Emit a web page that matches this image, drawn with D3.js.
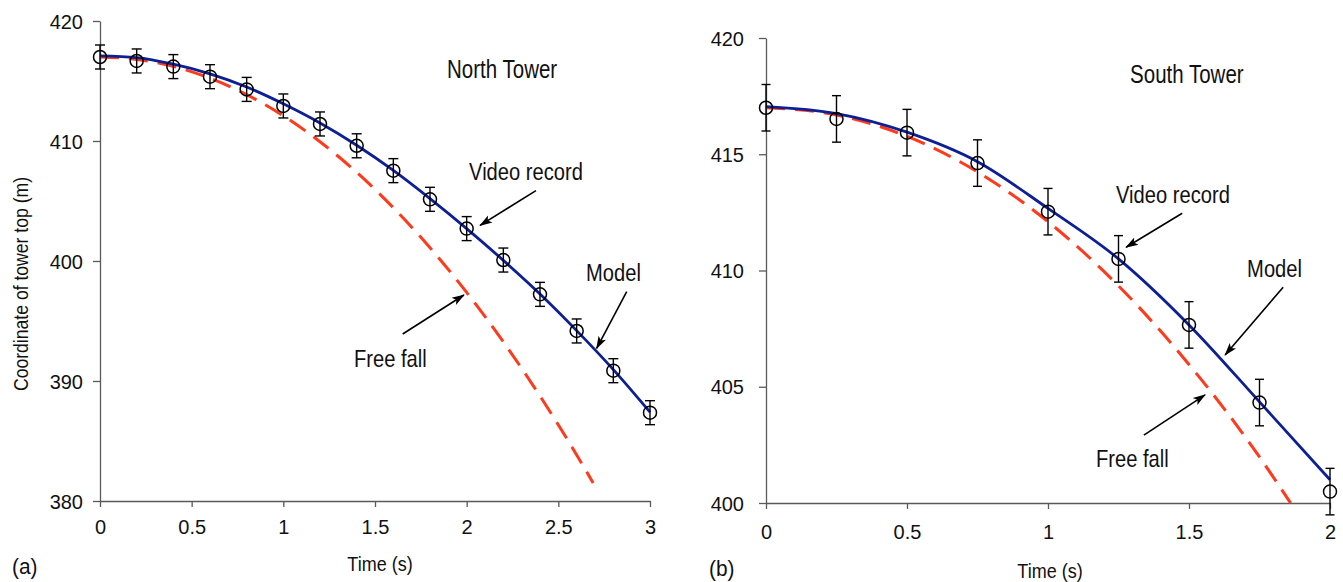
<!DOCTYPE html>
<html>
<head>
<meta charset="utf-8">
<script src="https://cdn.jsdelivr.net/npm/d3@7"></script>
<style>
  html, body { margin: 0; padding: 0; background: #fff; }
  svg { display: block; font-family: "Liberation Sans", Arial, Helvetica, sans-serif; }
</style>
</head>
<body>
<svg id="chart" width="1343" height="582"></svg>
<script>
// ---------- North Tower (a) ----------
const timeN = [0, 0.2, 0.4, 0.6, 0.8, 1.0, 1.2, 1.4, 1.6, 1.8, 2.0, 2.2, 2.4, 2.6, 2.8, 3.0];
const videoN = [417.0, 416.67, 416.2, 415.36, 414.3, 412.92, 411.42, 409.6, 407.53, 405.14, 402.7, 400.08, 397.22, 394.17, 390.86, 387.36];
const errN = [1.0, 1.0, 1.0, 1.0, 1.0, 1.0, 1.0, 1.0, 1.0, 1.0, 1.0, 1.0, 1.0, 1.0, 1.0, 1.0];
const modelTimeN = [0, 0.2, 0.4, 0.6, 0.8, 1.0, 1.2, 1.4, 1.6, 1.8, 2.0, 2.2, 2.4, 2.6, 2.8, 3.0];
const modelN = [417.1, 416.95, 416.4, 415.6, 414.5, 413.1, 411.5, 409.65, 407.55, 405.2, 402.7, 400.05, 397.25, 394.2, 390.95, 387.4];
const freeTimeN = [0, 0.2, 0.4, 0.6, 0.8, 1.0, 1.2, 1.4, 1.6, 1.8, 2.0, 2.2, 2.4, 2.6, 2.69];
const freeN = [417.0, 416.8, 416.22, 415.23, 413.86, 412.1, 409.94, 407.39, 404.44, 401.11, 397.38, 393.26, 388.75, 383.84, 381.5];
const xTicksN = [0, 0.5, 1, 1.5, 2, 2.5, 3];
const yTicksN = [380, 390, 400, 410, 420];

// ---------- South Tower (b) ----------
const timeS = [0, 0.25, 0.5, 0.75, 1.0, 1.25, 1.5, 1.75, 2.0];
const videoS = [417.0, 416.52, 415.93, 414.62, 412.53, 410.5, 407.66, 404.32, 400.49];
const errS = [1.0, 1.0, 1.0, 1.0, 1.0, 1.0, 1.0, 1.0, 1.0];
const modelTimeS = [0, 0.25, 0.5, 0.75, 1.0, 1.25, 1.5, 1.75, 2.0];
const modelS = [417.05, 416.75, 415.95, 414.68, 412.67, 410.5, 407.66, 404.35, 401.0];
const freeTimeS = [0, 0.25, 0.5, 0.75, 1.0, 1.25, 1.5, 1.75, 1.86];
const freeS = [417.0, 416.69, 415.77, 414.24, 412.1, 409.34, 405.96, 401.98, 400.0];
const xTicksS = [0, 0.5, 1, 1.5, 2];
const yTicksS = [400, 405, 410, 415, 420];

// ---------- annotations (data coordinates) ----------
const titleN = {text: "North Tower", t: 1.893, v: 415.25};
const labelsN = [
  {text: "Video record", t: 2.013, v: 406.75},
  {text: "Model", t: 2.651, v: 398.33},
  {text: "Free fall", t: 1.385, v: 391.17}
];
const arrowsN = [
  {t0: 2.378, v0: 405.86, t1: 2.073, v1: 402.97},
  {t0: 2.873, v0: 397.44, t1: 2.709, v1: 392.72},
  {t0: 1.651, v0: 393.92, t1: 1.985, v1: 397.17}
];
const titleS = {text: "South Tower", t: 1.291, v: 418.06};
const labelsS = [
  {text: "Video record", t: 1.241, v: 412.9},
  {text: "Model", t: 1.706, v: 409.72},
  {text: "Free fall", t: 1.170, v: 401.55}
];
const arrowsS = [
  {t0: 1.476, v0: 412.46, t1: 1.277, v1: 411.0},
  {t0: 1.834, v0: 409.28, t1: 1.628, v1: 406.37},
  {t0: 1.340, v0: 402.92, t1: 1.557, v1: 404.65}
];

const svg = d3.select("#chart");
svg.append("rect").attr("width", 1343).attr("height", 582).attr("fill", "#fff");

const defs = svg.append("defs");
defs.append("marker")
  .attr("id", "arrowhead")
  .attr("viewBox", "0 -5 13 10")
  .attr("refX", 12).attr("refY", 0)
  .attr("markerWidth", 13).attr("markerHeight", 10)
  .attr("markerUnits", "userSpaceOnUse")
  .attr("orient", "auto")
  .append("path")
  .attr("d", "M0,-4.2L13,0L0,4.2L3,0Z")
  .attr("fill", "#000");

const BLUE = "#0d1f94";
const RED = "#ff3a1c";
const AXIS = "#5a5a5a";

function scaledText(g, x, y, str, size, sx, anchor) {
  return g.append("text")
    .attr("transform", `translate(${x},${y}) scale(${sx},1)`)
    .attr("font-size", size)
    .attr("text-anchor", anchor || "start")
    .attr("fill", "#111")
    .text(str);
}

function panel(cfg) {
  const x = d3.scaleLinear().domain(cfg.xDomain).range(cfg.xRange);
  const y = d3.scaleLinear().domain(cfg.yDomain).range(cfg.yRange);
  const g = svg.append("g");

  // axes
  const yAxis = d3.axisLeft(y).tickValues(cfg.yTicks).tickSize(7).tickSizeOuter(0).tickPadding(cfg.yPad).tickFormat(d3.format("d"));
  const xAxis = d3.axisBottom(x).tickValues(cfg.xTicks).tickSize(6).tickSizeOuter(0).tickPadding(cfg.xPad).tickFormat(d => String(d));
  const ya = g.append("g").attr("transform", `translate(${cfg.xRange[0]},0)`).call(yAxis);
  const xa = g.append("g").attr("transform", `translate(0,${cfg.yRange[0]})`).call(xAxis);
  [ya, xa].forEach(a => {
    a.select(".domain").attr("stroke", AXIS).attr("stroke-width", 1.3);
    a.selectAll(".tick line").attr("stroke", AXIS).attr("stroke-width", 1.3);
    a.selectAll(".tick text").attr("font-size", 20).attr("fill", "#111")
      .attr("font-family", "Liberation Sans, Arial, sans-serif");
  });
  ya.selectAll(".tick text").attr("dy", "0.36em");

  // free fall (dashed)
  const line = d3.line().x(d => x(d[0])).y(d => y(d[1])).curve(d3.curveMonotoneX);
  g.append("path")
    .attr("d", line(cfg.freeT.map((t, i) => [t, cfg.freeV[i]])))
    .attr("fill", "none").attr("stroke", RED).attr("stroke-width", 3)
    .attr("stroke-dasharray", "19,10");

  // model (solid)
  g.append("path")
    .attr("d", line(cfg.modelT.map((t, i) => [t, cfg.modelV[i]])))
    .attr("fill", "none").attr("stroke", BLUE).attr("stroke-width", 2.8);

  // video record points with error bars
  const pts = cfg.t.map((t, i) => ({t, v: cfg.v[i], e: cfg.e[i]}));
  const eb = g.append("g").attr("stroke", "#000").attr("stroke-width", 1.4);
  pts.forEach(p => {
    const cx = x(p.t);
    eb.append("line").attr("x1", cx).attr("x2", cx).attr("y1", y(p.v + p.e)).attr("y2", y(p.v - p.e));
    eb.append("line").attr("x1", cx - cfg.cap).attr("x2", cx + cfg.cap).attr("y1", y(p.v + p.e)).attr("y2", y(p.v + p.e));
    eb.append("line").attr("x1", cx - cfg.cap).attr("x2", cx + cfg.cap).attr("y1", y(p.v - p.e)).attr("y2", y(p.v - p.e));
  });
  g.append("g").selectAll("circle").data(pts).join("circle")
    .attr("cx", d => x(d.t)).attr("cy", d => y(d.v)).attr("r", 6.5)
    .attr("fill", "none").attr("stroke", "#000").attr("stroke-width", 1.5);

  // annotations
  scaledText(g, x(cfg.title.t), y(cfg.title.v), cfg.title.text, 25, 0.82);
  cfg.labels.forEach(l => scaledText(g, x(l.t), y(l.v), l.text, 24, 0.84));
  cfg.arrows.forEach(a => {
    g.append("line")
      .attr("x1", x(a.t0)).attr("y1", y(a.v0))
      .attr("x2", x(a.t1)).attr("y2", y(a.v1))
      .attr("stroke", "#000").attr("stroke-width", 1.6)
      .attr("marker-end", "url(#arrowhead)");
  });

  // axis title and panel letter
  scaledText(g, cfg.xTitleX, cfg.xTitleY, "Time (s)", 20, 0.9, "middle");
  scaledText(g, cfg.letterX, cfg.letterY, cfg.letter, 22, 0.95);
  return {x, y};
}

panel({
  xDomain: [0, 3], xRange: [100, 650],
  yDomain: [380, 420], yRange: [501, 21],
  xTicks: xTicksN, yTicks: yTicksN, yPad: 10, xPad: 13,
  t: timeN, v: videoN, e: errN, cap: 5,
  modelT: modelTimeN, modelV: modelN,
  freeT: freeTimeN, freeV: freeN,
  title: titleN, labels: labelsN, arrows: arrowsN,
  xTitleX: 380, xTitleY: 571, letter: "(a)", letterX: 12, letterY: 574
});

panel({
  xDomain: [0, 2], xRange: [766, 1330],
  yDomain: [400, 420], yRange: [503, 38],
  xTicks: xTicksS, yTicks: yTicksS, yPad: 15, xPad: 16,
  t: timeS, v: videoS, e: errS, cap: 4.5,
  modelT: modelTimeS, modelV: modelS,
  freeT: freeTimeS, freeV: freeS,
  title: titleS, labels: labelsS, arrows: arrowsS,
  xTitleX: 1050, xTitleY: 578, letter: "(b)", letterX: 709, letterY: 576
});

// y-axis title (left panel)
svg.append("text")
  .attr("transform", "translate(28,284) rotate(-90) scale(0.88,1)")
  .attr("font-size", 20)
  .attr("text-anchor", "middle")
  .attr("fill", "#111")
  .text("Coordinate of tower top (m)");
</script>
</body>
</html>
